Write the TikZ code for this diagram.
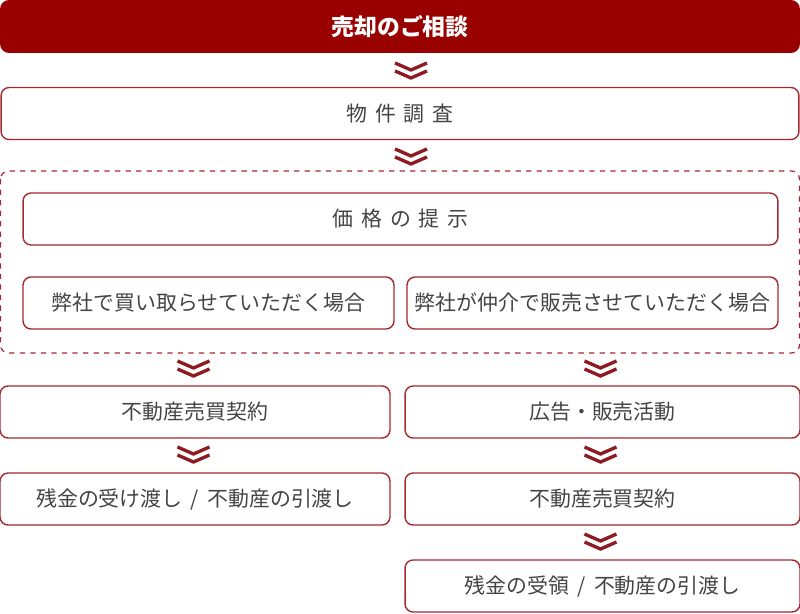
\documentclass[tikz,border=0pt]{standalone}
\usepackage{fontspec}
\newfontfamily\jp{Noto Sans CJK JP}
\usetikzlibrary{positioning,calc}

\definecolor{darkred}{HTML}{990000}
\definecolor{boxred}{HTML}{A52A2F}
\definecolor{chevred}{HTML}{8E1B22}
\definecolor{txtgray}{HTML}{444444}

\begin{document}
\begin{tikzpicture}[
    x=0.02cm, y=-0.02cm,
    font=\jp\fontsize{11.9}{13}\selectfont,
    box/.style={draw=boxred, line width=0.8pt, rounded corners=0.16cm, minimum height=1.04cm, align=center, text=txtgray, inner sep=0pt},
    widebox/.style={box, minimum width=15.96cm},
    halfbox/.style={box, minimum width=7.8cm},
    titlebox/.style={fill=darkred, rounded corners=0.18cm, minimum width=16cm, minimum height=1.06cm, text=white, font=\jp\bfseries\fontsize{13}{15}\selectfont, inner sep=0pt},
    chevron/.pic={
        \draw[chevred, line width=1.9pt] (-16,-7) -- (0,0) -- (16,-7);
        \draw[chevred, line width=1.9pt] (-16,1) -- (0,8) -- (16,1);
    }
]
\useasboundingbox (0,0) rectangle (800,614);

% Top title
\node[titlebox] (consult) at (400,26.5) {売却のご相談};

% Survey
\node[widebox] (survey) at (400,113.5) {物\hspace{0.38em}件\hspace{0.38em}調\hspace{0.38em}査};

% Dashed frame with price and the two cases
\draw[boxred, dashed, line width=0.7pt, rounded corners=0.16cm] (0.5,171) rectangle (799.5,353);
\node[box, minimum width=15.1cm] (price) at (400.5,219) {価\hspace{0.38em}格\hspace{0.38em}の\hspace{0.38em}提\hspace{0.38em}示};
\node[box, minimum width=7.42cm] (buy) at (208.5,303) {弊社で買い取らせていただく場合};
\node[box, minimum width=7.42cm] (broker) at (592.5,303) {弊社が仲介で販売させていただく場合};

% Left column
\node[halfbox] (contractL) at (195,412) {不動産売買契約};
\node[halfbox] (settleL) at (195,499) {残金の受け渡し\hspace{0.4em}/\hspace{0.4em}不動産の引渡し};

% Right column
\node[box, minimum width=7.9cm] (advert) at (602.5,412) {広告・販売活動};
\node[box, minimum width=7.9cm] (contractR) at (602.5,499) {不動産売買契約};
\node[box, minimum width=7.9cm] (settleR) at (602.5,586) {残金の受領\hspace{0.4em}/\hspace{0.4em}不動産の引渡し};

% Chevrons
\pic at (411,70) {chevron};
\pic at (411,156) {chevron};
\pic at (193.5,368) {chevron};
\pic at (600.5,368) {chevron};
\pic at (193.5,454) {chevron};
\pic at (600.5,454) {chevron};
\pic at (600.5,541) {chevron};

\end{tikzpicture}
\end{document}
